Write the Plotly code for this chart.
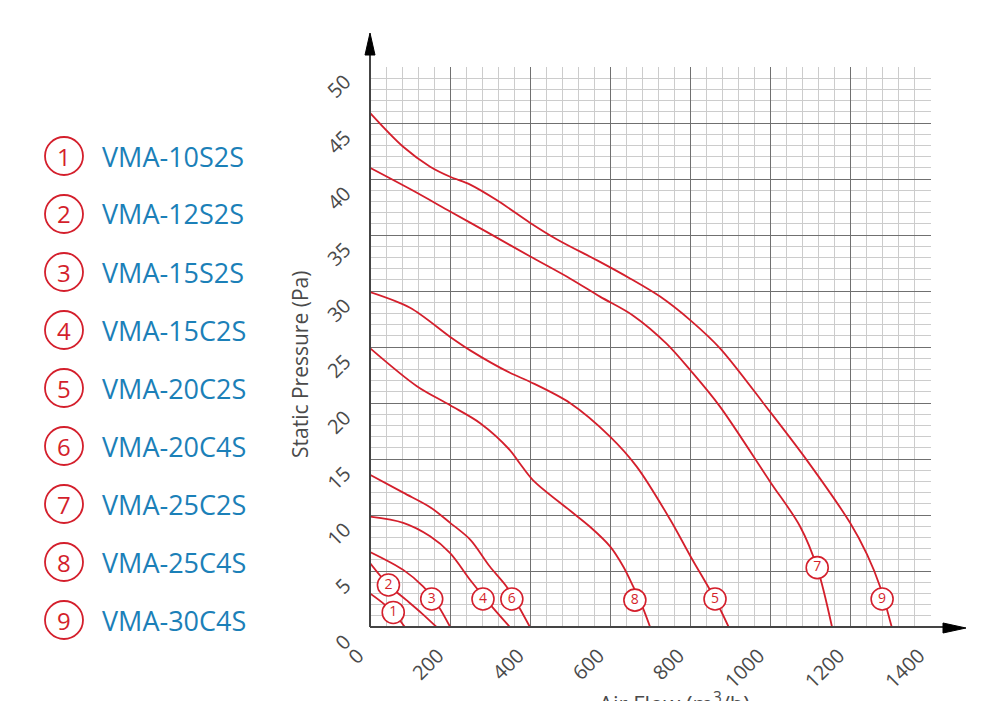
import plotly.graph_objects as go

# ---- data (air flow m3/h, static pressure Pa) ----
models = ["VMA-10S2S", "VMA-12S2S", "VMA-15S2S", "VMA-15C2S", "VMA-20C2S",
          "VMA-20C4S", "VMA-25C2S", "VMA-25C4S", "VMA-30C4S"]

c1_x = [0, 30, 58, 87]
c1_y = [3.0, 2.2, 1.3, 0]
c2_x = [0, 46, 91, 130, 166]
c2_y = [5.7, 3.75, 2.4, 1.2, 0]
c3_x = [0, 83, 133, 170, 200]
c3_y = [6.7, 5.1, 3.6, 1.9, 0]
c4_x = [0, 83, 150, 200, 250, 300, 349]
c4_y = [9.85, 9.3, 8.1, 6.6, 4.2, 2.0, 0]
c5_x = [0, 100, 200, 250, 349, 399, 499, 599, 666, 749, 800, 861, 895]
c5_y = [29.9, 28.5, 25.9, 24.7, 22.7, 21.9, 20.0, 17.0, 14.3, 9.6, 6.3, 2.5, 0]
c6_x = [0, 83, 150, 200, 250, 299, 341, 370, 399]
c6_y = [13.6, 12.0, 10.7, 9.3, 7.8, 5.4, 3.6, 1.9, 0]
c7_x = [0, 100, 200, 300, 399, 500, 574, 657, 740, 800, 873, 998, 1073, 1116, 1153]
c7_y = [41.0, 39.1, 37.1, 35.1, 33.1, 31.1, 29.5, 27.8, 25.3, 22.9, 19.7, 13.0, 9.0, 5.3, 0]
c8_x = [0, 117, 200, 275, 349, 374, 407, 499, 549, 599, 632, 657, 680, 699]
c8_y = [24.9, 21.5, 19.8, 18.2, 15.8, 14.6, 13.1, 10.4, 8.95, 7.2, 5.4, 3.6, 1.8, 0]
c9_x = [0, 82, 150, 200, 250, 317, 399, 467, 574, 650, 724, 799, 873, 990, 1090, 1198, 1240, 1273, 1302]
c9_y = [45.9, 42.9, 41.1, 40.2, 39.5, 38.1, 36.1, 34.6, 32.6, 31.1, 29.5, 27.4, 24.9, 19.6, 14.9, 9.3, 6.5, 3.6, 0]

curves_x = [c1_x, c2_x, c3_x, c4_x, c5_x, c6_x, c7_x, c8_x, c9_x]
curves_y = [c1_y, c2_y, c3_y, c4_y, c5_y, c6_y, c7_y, c8_y, c9_y]

# curve number badges placed on each curve
badge_num = ["1", "2", "3", "4", "5", "6", "7", "8", "9"]
badge_x = [58, 46, 154, 282, 861, 354, 1116, 661, 1278]
badge_y = [1.3, 3.75, 2.5, 2.5, 2.5, 2.5, 5.3, 2.4, 2.5]

x_ticks = [0, 200, 400, 600, 800, 1000, 1200, 1400]
y_ticks = [0, 5, 10, 15, 20, 25, 30, 35, 40, 45, 50]

RED = "#d41f2c"
BLUE = "#1b80b8"
GRAY = "#4a4a4a"
FONT = "Open Sans"

# page offset (browser body margin) and plot area geometry in screen pixels
OFF = 8
L, R, T, B = 370, 931, 67, 627
PW, PH = R - L, B - T
FW, FH = 1000 - OFF, 701 - OFF

def px(xp):
    return (xp - L) / PW

def py(yp):
    return (B - yp) / PH

fig = go.Figure()
for cx, cy in zip(curves_x, curves_y):
    fig.add_trace(go.Scatter(x=cx, y=cy, mode="lines",
                             line=dict(color=RED, width=1.8, shape="spline", smoothing=0.9),
                             hoverinfo="skip", showlegend=False))

fig.add_trace(go.Scatter(x=badge_x, y=badge_y, mode="markers+text", text=badge_num,
                         textposition="middle center",
                         textfont=dict(color=RED, size=14, family=FONT),
                         marker=dict(size=22, color="white", line=dict(color=RED, width=1.6)),
                         showlegend=False, hoverinfo="skip"))

shapes = []
annotations = []

# legend on the left
leg_y0 = 156
leg_dy = 58
for i, (num, name) in enumerate(zip(badge_num, models)):
    cy = leg_y0 + i * leg_dy
    shapes.append(dict(type="circle", xref="paper", yref="paper",
                       xsizemode="pixel", ysizemode="pixel",
                       xanchor=px(64), yanchor=py(cy),
                       x0=-19, x1=19, y0=-19, y1=19,
                       line=dict(color=RED, width=1.8), fillcolor="white"))
    annotations.append(dict(x=px(64), y=py(cy), xref="paper", yref="paper",
                            text=num, showarrow=False, xanchor="center", yanchor="middle",
                            font=dict(color=RED, size=24, family=FONT)))
    annotations.append(dict(x=px(100), y=py(cy), xref="paper", yref="paper",
                            text=name, showarrow=False, xanchor="left", yanchor="middle",
                            font=dict(color=BLUE, size=27, family=FONT)))

# axis arrows
AX = "#444444"
shapes.append(dict(type="line", xref="paper", yref="paper",
                   x0=0, x1=0, y0=0, y1=py(52), line=dict(color=AX, width=2)))
shapes.append(dict(type="path", xref="paper", yref="paper", fillcolor="black",
                   line=dict(color="black", width=1),
                   path=f"M {px(365)} {py(55)} L {px(375)} {py(55)} L {px(370)} {py(33)} Z"))
shapes.append(dict(type="line", xref="paper", yref="paper",
                   x0=0, x1=px(946), y0=0, y1=0, line=dict(color=AX, width=2)))
shapes.append(dict(type="path", xref="paper", yref="paper", fillcolor="black",
                   line=dict(color="black", width=1),
                   path=f"M {px(943)} {py(623)} L {px(943)} {py(633)} L {px(966)} {py(628)} Z"))

# axis titles
annotations.append(dict(x=px(300), y=py(365), xref="paper", yref="paper",
                        text="Static Pressure (Pa)", showarrow=False, textangle=-90,
                        xanchor="center", yanchor="middle",
                        font=dict(color=GRAY, size=21, family=FONT)))
annotations.append(dict(x=px(674), y=py(702), xref="paper", yref="paper",
                        text="Air Flow (m<sup>3</sup>/h)", showarrow=False,
                        xanchor="center", yanchor="middle",
                        font=dict(color=GRAY, size=22, family=FONT)))

fig.update_layout(
    width=FW, height=FH,
    margin=dict(l=L - OFF, r=FW - (R - OFF), t=T - OFF, b=FH - (B - OFF), pad=0,
                autoexpand=False),
    paper_bgcolor="white", plot_bgcolor="white",
    shapes=shapes, annotations=annotations,
    showlegend=False,
    font=dict(family=FONT, color=GRAY),
)
fig.update_xaxes(range=[0, 1400], tickvals=x_ticks, ticktext=[str(v) for v in x_ticks],
                 tickangle=-45, tickfont=dict(size=20, color=GRAY), automargin=False,
                 showgrid=True, gridcolor="#707070", gridwidth=1.2,
                 minor=dict(dtick=40, showgrid=True, gridcolor="#cccccc", gridwidth=1),
                 zeroline=False, showline=False,
                 ticks="", ticklabelstandoff=12, ticklabelshift=-12)
fig.update_yaxes(range=[0, 50], tickvals=y_ticks, ticktext=[str(v) for v in y_ticks],
                 tickangle=-45, tickfont=dict(size=20, color=GRAY), automargin=False,
                 showgrid=True, gridcolor="#707070", gridwidth=1.2,
                 minor=dict(dtick=1, showgrid=True, gridcolor="#cccccc", gridwidth=1),
                 zeroline=False, showline=False, ticks="",
                 ticklabelstandoff=24, ticklabelshift=12)

fig.write_html("out.html")
